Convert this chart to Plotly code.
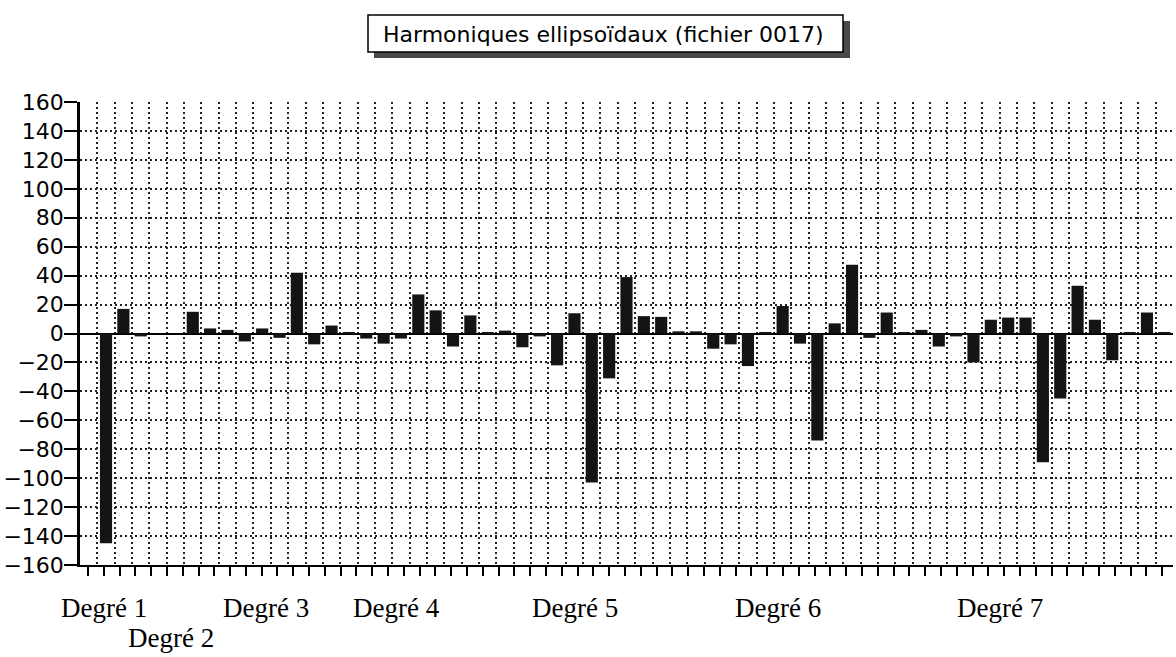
import plotly.graph_objects as go

# ---------------- data ----------------
title_text = "Harmoniques ellipsoïdaux (fichier 0017)"
degree_labels = ["Degré 1", "Degré 2", "Degré 3", "Degré 4", "Degré 5", "Degré 6", "Degré 7"]

deg1 = [0, -145, 17]
deg2 = [-2, 0, 0, 15, 3.5]
deg3 = [2.5, -5.5, 3.5, -3, 42, -7.5, 5.5]
deg4 = [0.5, -3.5, -7, -3.5, 27, 16, -9, 12.5, 0.5]
deg5 = [2, -9.5, -2, -22, 14, -103, -31, 39, 12, 11.5, 1.5]
deg6 = [1.5, -10.5, -7.5, -22.5, 0.5, 19, -7, -74, 7, 47.5, -3, 14.5, 0.5]
deg7 = [2.5, -9, -2, -20, 9.5, 11, 11, -89, -45, 33, 9.5, -18.5, 0.5, 14.5, 0.5]

y_tick_vals = list(range(-160, 161, 20))

# ---------------- layout helpers ----------------
W, H = 1176, 657
L, R, T, B = 80, 3, 102, 92
PW, PH = W - L - R, H - T - B


def pxx(x):
    return (x - L) / PW


def pxy(y):
    return (H - B - y) / PH


series = deg1 + deg2 + deg3 + deg4 + deg5 + deg6 + deg7
x_idx = list(range(len(series)))
n = len(series)

fig = go.Figure()
fig.add_trace(go.Bar(
    x=x_idx, y=series, width=0.7,
    marker=dict(color="#141414", line=dict(width=0)),
    showlegend=False, hoverinfo="skip",
))
# empty helper trace so that the secondary tick axis is drawn
fig.add_trace(go.Scatter(x=[], y=[], xaxis="x2", yaxis="y", showlegend=False, hoverinfo="skip"))

grid_dash = "2px,3px"

fig.update_layout(
    width=W, height=H,
    margin=dict(l=L, r=R, t=T, b=B, autoexpand=False),
    paper_bgcolor="white", plot_bgcolor="white",
    bargap=0.3,
    xaxis=dict(
        range=[-0.5, n - 0.5], showticklabels=False, ticks="", automargin=False,
        tick0=0.5, dtick=1, showgrid=True, gridcolor="#222", gridwidth=1.5, griddash=grid_dash,
        showline=True, linecolor="black", linewidth=2, zeroline=False, mirror=False,
    ),
    xaxis2=dict(
        overlaying="x", anchor="y", side="bottom", automargin=False,
        range=[-0.5, 68.68], tick0=0, dtick=1,
        ticks="outside", ticklen=10, tickwidth=1.5, tickcolor="black",
        showticklabels=False, showgrid=False, showline=False, zeroline=False,
    ),
    yaxis=dict(
        range=[-160, 160], tickmode="array", tickvals=y_tick_vals, automargin=False,
        ticks="outside", ticklen=13, tickwidth=2, tickcolor="black",
        ticklabelstandoff=-4,
        tickfont=dict(family="DejaVu Sans", size=22, color="black"),
        showgrid=True, gridcolor="#222", gridwidth=1.5, griddash=grid_dash,
        showline=True, linecolor="black", linewidth=2.5,
        zeroline=True, zerolinecolor="black", zerolinewidth=2,
    ),
    font=dict(family="DejaVu Sans", color="black"),
)

# title box with shadow
fig.add_shape(type="rect", xref="paper", yref="paper",
              x0=pxx(374), x1=pxx(850), y0=pxy(58), y1=pxy(21),
              fillcolor="#4a4a4a", line=dict(width=0), layer="above")
fig.add_shape(type="rect", xref="paper", yref="paper",
              x0=pxx(368), x1=pxx(843), y0=pxy(52), y1=pxy(15),
              fillcolor="white", line=dict(color="black", width=1.5), layer="above")
fig.add_annotation(text=title_text, xref="paper", yref="paper",
                   x=pxx(603), y=pxy(34), xanchor="center", yanchor="middle",
                   showarrow=False, font=dict(family="DejaVu Sans", size=22, color="black"))

# degree labels under the axis
label_cx = [104, 171, 266, 396, 575, 778, 1000]
label_cy = [608, 638, 608, 608, 608, 608, 608]
for txt, cx, cy in zip(degree_labels, label_cx, label_cy):
    fig.add_annotation(text=txt, xref="paper", yref="paper",
                       x=pxx(cx), y=pxy(cy), xanchor="center", yanchor="middle",
                       showarrow=False,
                       font=dict(family="Liberation Serif", size=27, color="black"))

fig.write_html(
    "out.html",
    config={"displayModeBar": False},
    post_script="document.body.style.margin='0';document.body.style.overflow='hidden';",
)
